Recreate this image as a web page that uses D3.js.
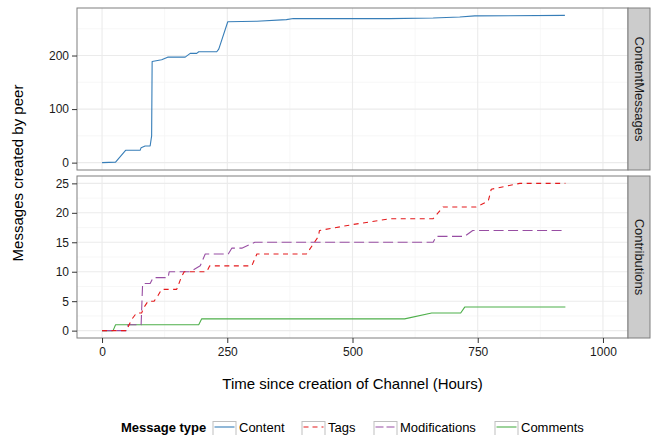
<!DOCTYPE html>
<html>
<head>
<meta charset="utf-8">
<script src="https://cdn.jsdelivr.net/npm/d3@7"></script>
<style>
  body { margin: 0; background: #fff; }
  svg text { font-family: "Liberation Sans", Arial, Helvetica, sans-serif; }
</style>
</head>
<body>
<svg id="chart" width="652" height="435"></svg>
<script>
// Cumulative messages per type: [hours since channel creation, count]
const contentMessages = [[0,0],[27,1],[47,23],[76,23],[78,28],[86,31],[96,31],[99,50],[100,189],[119,192],[131,197],[166,197],[176,204],[189,204],[193,207],[229,207],[233,212],[251,263],[309,264],[368,267],[382,269],[574,269],[661,270],[714,272],[744,274],[924,275]];
const tagMessages = [[0,0],[49,0],[54,1],[60,2],[69,3],[79,3],[84,4],[92,5],[104,5],[112,6],[119,7],[149,7],[158,9],[164,10],[209,10],[215,11],[299,11],[309,13],[408,13],[432,16],[434,17],[500,18],[575,19],[661,19],[681,21],[747,21],[771,22],[777,24],[834,25],[925,25]];
const modificationMessages = [[0,0],[49,0],[52,1],[78,1],[81,8],[96,8],[102,9],[132,9],[134,10],[176,10],[196,11],[206,13],[252,13],[259,14],[279,14],[305,15],[661,15],[667,16],[724,16],[740,17],[925,17]];
const commentMessages = [[0,0],[22,0],[27,1],[193,1],[199,2],[604,2],[658,3],[716,3],[724,4],[925,4]];

const messageTypes = ["Content", "Tags", "Modifications", "Comments"];
const panelNames = ["ContentMessages", "Contributions"];
const xTicks = [0, 250, 500, 750, 1000];
const xMinor = [125, 375, 625, 875];
const topTicks = [0, 100, 200];
const topMinor = [50, 150, 250];
const bottomTicks = [0, 5, 10, 15, 20, 25];
const bottomMinor = [2.5, 7.5, 12.5, 17.5, 22.5];

const typeStyle = {
  Content:       { color: "#377EB8", dash: null },
  Tags:          { color: "#E41A1C", dash: "5,4.5" },
  Modifications: { color: "#984EA3", dash: "10,4.5" },
  Comments:      { color: "#4DAF4A", dash: null }
};

const svg = d3.select("#chart");
const left = 77, right = 628, stripW = 22;

const x = d3.scaleLinear().domain([-50, 1050]).range([left, right]);

const panels = [
  { name: panelNames[0], top: 8, bottom: 170, domain: [-13.75, 288.75], ticks: topTicks, minor: topMinor,
    series: [{ type: "Content", data: contentMessages }] },
  { name: panelNames[1], top: 176, bottom: 338, domain: [-1.25, 26.25], ticks: bottomTicks, minor: bottomMinor,
    series: [
      { type: "Comments", data: commentMessages },
      { type: "Modifications", data: modificationMessages },
      { type: "Tags", data: tagMessages }
    ] }
];

panels.forEach(p => {
  const y = d3.scaleLinear().domain(p.domain).range([p.bottom, p.top]);
  const g = svg.append("g");

  // panel background
  g.append("rect").attr("x", left).attr("y", p.top)
    .attr("width", right - left).attr("height", p.bottom - p.top).attr("fill", "#fff");

  // minor grid
  g.selectAll(".vminor").data(xMinor).join("line")
    .attr("x1", d => x(d)).attr("x2", d => x(d)).attr("y1", p.top).attr("y2", p.bottom)
    .attr("stroke", "#F5F5F5").attr("stroke-width", 0.8);
  g.selectAll(".hminor").data(p.minor).join("line")
    .attr("x1", left).attr("x2", right).attr("y1", d => y(d)).attr("y2", d => y(d))
    .attr("stroke", "#F5F5F5").attr("stroke-width", 0.8);
  // major grid
  g.selectAll(".vmajor").data(xTicks).join("line")
    .attr("x1", d => x(d)).attr("x2", d => x(d)).attr("y1", p.top).attr("y2", p.bottom)
    .attr("stroke", "#EBEBEB").attr("stroke-width", 1.1);
  g.selectAll(".hmajor").data(p.ticks).join("line")
    .attr("x1", left).attr("x2", right).attr("y1", d => y(d)).attr("y2", d => y(d))
    .attr("stroke", "#EBEBEB").attr("stroke-width", 1.1);

  // series lines
  const line = d3.line().x(d => x(d[0])).y(d => y(d[1]));
  p.series.forEach(s => {
    const st = typeStyle[s.type];
    g.append("path").datum(s.data).attr("d", line)
      .attr("fill", "none").attr("stroke", st.color).attr("stroke-width", 1.1)
      .attr("stroke-dasharray", st.dash).attr("stroke-linejoin", "round");
  });

  // panel border
  g.append("rect").attr("x", left).attr("y", p.top)
    .attr("width", right - left).attr("height", p.bottom - p.top)
    .attr("fill", "none").attr("stroke", "#7F7F7F").attr("stroke-width", 1);

  // facet strip
  g.append("rect").attr("x", right).attr("y", p.top)
    .attr("width", stripW).attr("height", p.bottom - p.top)
    .attr("fill", "#CCCCCC").attr("stroke", "#7F7F7F").attr("stroke-width", 1);
  g.append("text")
    .attr("transform", `translate(${right + stripW / 2},${(p.top + p.bottom) / 2}) rotate(90)`)
    .attr("text-anchor", "middle").attr("dominant-baseline", "central")
    .attr("font-size", 13).attr("fill", "#1a1a1a").text(p.name);

  // y axis
  const ya = g.append("g").attr("transform", `translate(${left},0)`)
    .call(d3.axisLeft(y).tickValues(p.ticks).tickFormat(d3.format("d")).tickSize(5).tickPadding(3));
  ya.select(".domain").remove();
  ya.selectAll("line").attr("stroke", "#333");
  ya.selectAll("text").attr("font-size", 12).attr("fill", "#1a1a1a");
});

// x axis under the lower panel
const xa = svg.append("g").attr("transform", `translate(0,${panels[1].bottom})`)
  .call(d3.axisBottom(x).tickValues(xTicks).tickFormat(d3.format("d")).tickSize(5).tickPadding(4));
xa.select(".domain").remove();
xa.selectAll("line").attr("stroke", "#333");
xa.selectAll("text").attr("font-size", 12).attr("fill", "#1a1a1a");

// axis titles
svg.append("text").attr("x", (left + right) / 2).attr("y", 389)
  .attr("text-anchor", "middle").attr("font-size", 15).attr("fill", "#000")
  .text("Time since creation of Channel (Hours)");
svg.append("text")
  .attr("transform", `translate(23,${(panels[0].top + panels[1].bottom) / 2}) rotate(-90)`)
  .attr("text-anchor", "middle").attr("font-size", 15).attr("fill", "#000")
  .text("Messages created by peer");

// legend
const legendY = 427;
svg.append("text").attr("x", 121).attr("y", legendY).attr("dominant-baseline", "central")
  .attr("font-size", 13).attr("font-weight", "bold").text("Message type");
const keyX = [213, 302, 374, 495];
const lg = svg.selectAll(".key").data(messageTypes).join("g")
  .attr("transform", (d, i) => `translate(${keyX[i]},${legendY - 5.5})`);
lg.append("rect").attr("width", 23).attr("height", 17)
  .attr("fill", "#fff").attr("stroke", "#BFBFBF").attr("stroke-width", 1);
lg.append("line").attr("x1", 1.5).attr("x2", 21.5).attr("y1", 5.5).attr("y2", 5.5)
  .attr("stroke", d => typeStyle[d].color).attr("stroke-width", 1.1)
  .attr("stroke-dasharray", d => typeStyle[d].dash ? (d === "Tags" ? "5,4" : "8,3") : null);
lg.append("text").attr("x", 26).attr("y", 5.5).attr("dominant-baseline", "central")
  .attr("font-size", 13).text(d => d);
</script>
</body>
</html>
